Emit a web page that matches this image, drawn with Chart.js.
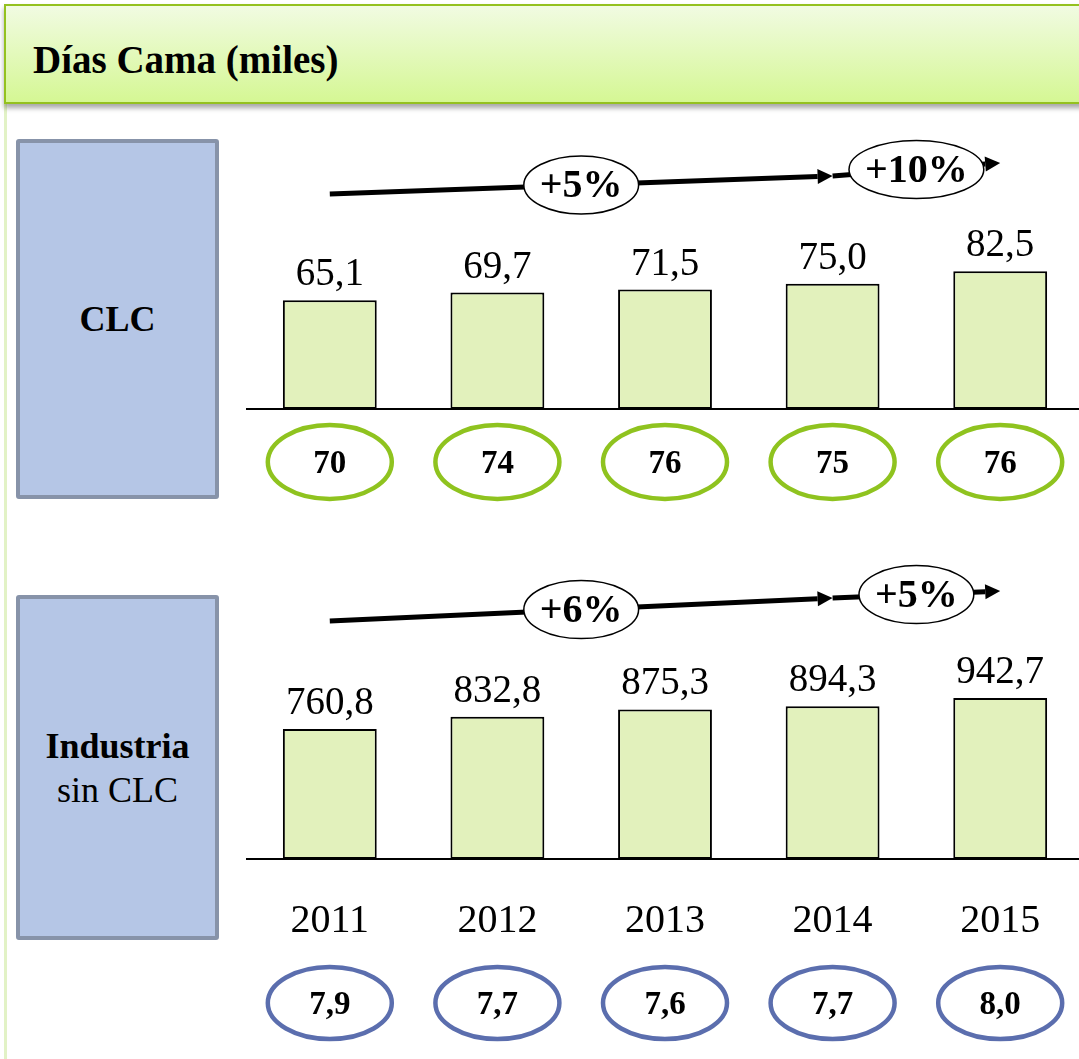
<!DOCTYPE html>
<html lang="es">
<head>
<meta charset="utf-8">
<title>Días Cama (miles)</title>
<script src="https://cdn.jsdelivr.net/npm/chart.js@4.4.1/dist/chart.umd.min.js"></script>
<style>
    html, body { margin: 0; padding: 0; background: #fff; overflow: hidden; width: 1079px; height: 1059px; }
    body { position: relative; font-family: 'Liberation Serif', serif; color: #000; }
    .header {
        position: absolute; left: 4px; top: 4px; width: 1085px; height: 100px;
        box-sizing: border-box; border: 2px solid #94c11f;
        background: linear-gradient(#f1fbe2, #d5f794);
        box-shadow: 0 4px 5px rgba(0, 0, 0, 0.35);
    }
    .header h1 { margin: 0; position: absolute; left: 27px; top: 34px; font-size: 39px; font-weight: bold; line-height: 1; }
    .rail { position: absolute; left: 4px; top: 104px; bottom: 0; width: 3px; background: #e2f2c6; }
    .panel {
        position: absolute; left: 16px; width: 203px; box-sizing: border-box;
        border: 4px solid #8793a9; border-radius: 3px; background: #b5c6e6;
        display: flex; flex-direction: column; align-items: center; justify-content: center;
        font-size: 36px; line-height: 44px;
    }
    .panel b { font-weight: bold; }
    canvas { position: absolute; }
</style>
</head>
<body>
<div class="rail"></div>
<div class="header"><h1>Días Cama (miles)</h1></div>
<div class="panel" style="top:139px;height:360px;"><b>CLC</b></div>
<div class="panel" style="top:595px;height:345px;"><b>Industria</b><span>sin CLC</span></div>
<canvas id="clcChart" width="838" height="395" style="left:246px;top:125px;"></canvas>
<canvas id="industryChart" width="838" height="499" style="left:246px;top:560px;"></canvas>
<script>
// Días cama (miles) por año
const years = ['2011', '2012', '2013', '2014', '2015'];
const clcDays = [65.1, 69.7, 71.5, 75.0, 82.5];
const industryDays = [760.8, 832.8, 875.3, 894.3, 942.7];

// indicadores bajo cada barra
const clcIndex = [70, 74, 76, 75, 76];
const industryIndex = [7.9, 7.7, 7.6, 7.7, 8.0];

// crecimiento 2011-2014 y 2014-2015
const clcGrowth = ['+5%', '+10%'];
const industryGrowth = ['+6%', '+5%'];

const SERIF = '"Liberation Serif", serif';
const fmt = v => v.toFixed(1).replace('.', ',');

const decorations = {
    id: 'decorations',
    afterDatasetsDraw(chart, args, opts) {
        const ctx = chart.ctx;
        const xs = chart.scales.x, ys = chart.scales.y;
        const values = chart.data.datasets[0].data;
        ctx.save();

        // value labels above the bars
        ctx.font = '39px ' + SERIF;
        ctx.fillStyle = '#000';
        ctx.textAlign = 'center';
        ctx.textBaseline = 'alphabetic';
        chart.getDatasetMeta(0).data.forEach((bar, i) => {
            ctx.fillText(fmt(values[i]), bar.x, bar.y - 15);
        });

        // trend arrows
        const mids = [];
        opts.arrows.forEach(a => {
            const x0 = xs.getPixelForValue(a.from), x1 = xs.getPixelForValue(a.to);
            const y0 = ys.getPixelForValue(a.start), y1 = ys.getPixelForValue(a.end);
            const ang = Math.atan2(y1 - y0, x1 - x0);
            const head = 15, half = 7.5;
            const bx = x1 - head * Math.cos(ang), by = y1 - head * Math.sin(ang);
            ctx.strokeStyle = '#000';
            ctx.lineWidth = 5;
            ctx.beginPath();
            ctx.moveTo(x0, y0);
            ctx.lineTo(bx, by);
            ctx.stroke();
            ctx.beginPath();
            ctx.moveTo(x1, y1);
            ctx.lineTo(bx - half * Math.sin(ang), by + half * Math.cos(ang));
            ctx.lineTo(bx + half * Math.sin(ang), by - half * Math.cos(ang));
            ctx.closePath();
            ctx.fillStyle = '#000';
            ctx.fill();
            mids.push([(x0 + x1) / 2, (y0 + y1) / 2]);
        });

        // growth bubbles on the arrows
        ctx.font = 'bold 40px ' + SERIF;
        ctx.textBaseline = 'middle';
        opts.growth.forEach((g, i) => {
            const [cx, cy] = mids[i];
            const rx = ctx.measureText(g).width / 2 + 16;
            ctx.beginPath();
            ctx.ellipse(cx, cy, rx, 29, 0, 0, Math.PI * 2);
            ctx.fillStyle = '#fff';
            ctx.fill();
            ctx.lineWidth = 1.5;
            ctx.strokeStyle = '#000';
            ctx.stroke();
            ctx.fillStyle = '#000';
            ctx.fillText(g, cx, cy + 2);
        });

        // index ellipses below the axis
        const cy = chart.chartArea.bottom + opts.rowOffset;
        ctx.font = 'bold 33px ' + SERIF;
        opts.index.forEach((v, i) => {
            const cx = xs.getPixelForValue(i);
            ctx.beginPath();
            ctx.ellipse(cx, cy, 62, opts.rowRy, 0, 0, Math.PI * 2);
            ctx.fillStyle = '#fff';
            ctx.fill();
            ctx.lineWidth = 4.5;
            ctx.strokeStyle = opts.rowColor;
            ctx.stroke();
            ctx.fillStyle = '#000';
            ctx.fillText(opts.indexFormat(v), cx, cy + 2);
        });

        ctx.restore();
    }
};

function makeChart(id, values, cfg) {
    return new Chart(document.getElementById(id), {
        type: 'bar',
        data: {
            labels: years,
            datasets: [{
                data: values,
                backgroundColor: '#e2f1bc',
                borderColor: '#000',
                borderWidth: 2,
                borderSkipped: false,
                barPercentage: 0.56,
                categoryPercentage: 1
            }]
        },
        options: {
            responsive: false,
            animation: false,
            layout: { padding: 0 },
            plugins: {
                legend: { display: false },
                tooltip: { enabled: false },
                decorations: cfg.decor
            },
            scales: {
                x: {
                    grid: { display: false, drawTicks: false },
                    border: { display: true, color: '#000', width: 2 },
                    ticks: {
                        display: cfg.showYears,
                        color: '#000',
                        padding: 38,
                        font: { family: 'Liberation Serif', size: 40 }
                    },
                    afterFit: s => { s.height = cfg.axisHeight; }
                },
                y: { display: false, min: 0, max: cfg.max }
            }
        },
        plugins: [decorations]
    });
}

makeChart('clcChart', clcDays, {
    max: 170,
    axisHeight: 111,
    showYears: false,
    decor: {
        arrows: [
            { from: 0, to: 3, start: 128.7, end: 139.5 },
            { from: 3, to: 4, start: 139.5, end: 147.3 }
        ],
        growth: clcGrowth,
        index: clcIndex,
        indexFormat: v => String(v),
        rowOffset: 53,
        rowRy: 37,
        rowColor: '#8fc31f'
    }
});

makeChart('industryChart', industryDays, {
    max: 1750,
    axisHeight: 200,
    showYears: true,
    decor: {
        arrows: [
            { from: 0, to: 3, start: 1393, end: 1527 },
            { from: 3, to: 4, start: 1527, end: 1568 }
        ],
        growth: industryGrowth,
        index: industryIndex,
        indexFormat: fmt,
        rowOffset: 144,
        rowRy: 36,
        rowColor: '#5b6eae'
    }
});
</script>
</body>
</html>
